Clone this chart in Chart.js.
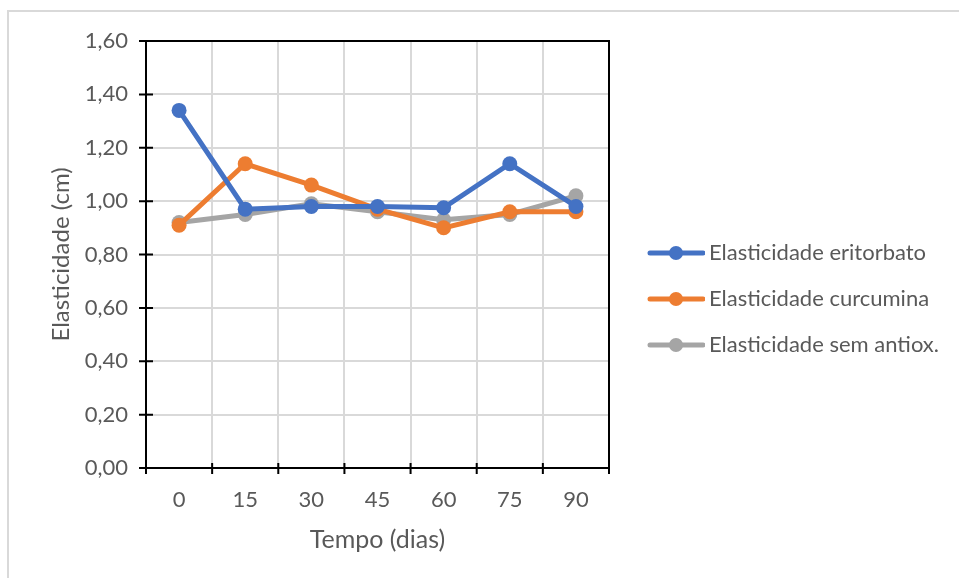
<!DOCTYPE html>
<html>
<head>
<meta charset="utf-8">
<script src="https://cdn.jsdelivr.net/npm/chart.js@4/dist/chart.umd.min.js"></script>
<style>
    html, body { margin: 0; padding: 0; background: #fff; }
    #wrap { width: 959px; height: 578px; }
</style>
</head>
<body>
<div id="wrap"><canvas id="elastChart" width="959" height="578"></canvas></div>
<script>
const dias = ['0', '15', '30', '45', '60', '75', '90'];
const eritorbato = [1.34, 0.97, 0.98, 0.98, 0.975, 1.14, 0.98];
const curcumina = [0.91, 1.14, 1.06, 0.97, 0.90, 0.96, 0.96];
const semAntiox = [0.92, 0.95, 0.99, 0.96, 0.93, 0.95, 1.02];
const seriesNames = ['Elasticidade eritorbato', 'Elasticidade curcumina', 'Elasticidade sem antiox.'];
const seriesColors = ['#4472C4', '#ED7D31', '#A5A5A5'];
const yTicks = [0, 0.2, 0.4, 0.6, 0.8, 1.0, 1.2, 1.4, 1.6];

const textColor = '#595959';
const fontFamily = "Lato, 'Open Sans', sans-serif";

// little line + marker used as the legend symbol
function legendIcon(color) {
    const c = document.createElement('canvas');
    c.width = 79;
    c.height = 16;
    const g = c.getContext('2d');
    g.strokeStyle = color;
    g.lineWidth = 5;
    g.lineCap = 'round';
    g.beginPath();
    g.moveTo(24, 8);
    g.lineTo(77, 8);
    g.stroke();
    g.fillStyle = color;
    g.beginPath();
    g.arc(50, 8, 7, 0, Math.PI * 2);
    g.fill();
    return c;
}

// frame around the plot, crossing tick marks and the outer sheet edge
const plotFrame = {
    id: 'plotFrame',
    afterDatasetsDraw(chart) {
        const {ctx, chartArea: a, scales: {x, y}} = chart;
        ctx.save();
        ctx.strokeStyle = '#000';
        ctx.lineWidth = 2;
        ctx.strokeRect(a.left, a.top, a.right - a.left, a.bottom - a.top);
        ctx.beginPath();
        yTicks.forEach(v => {
            const py = y.getPixelForValue(v);
            ctx.moveTo(a.left - 7, py);
            ctx.lineTo(a.left + 7, py);
        });
        for (let i = 0; i <= dias.length; i++) {
            const px = x.getPixelForValue(i - 0.5);
            ctx.moveTo(px, a.bottom - 5);
            ctx.lineTo(px, a.bottom + 6);
        }
        ctx.stroke();
        ctx.restore();
    },
    afterDraw(chart) {
        const ctx = chart.ctx;
        ctx.save();
        ctx.strokeStyle = '#d9d9d9';
        ctx.lineWidth = 2;
        ctx.beginPath();
        ctx.moveTo(8, chart.height);
        ctx.lineTo(8, 11);
        ctx.lineTo(chart.width, 11);
        ctx.stroke();
        ctx.restore();
    }
};

const legendWidth = {
    id: 'legendWidth',
    beforeInit(chart) {
        const fitValue = chart.legend.fit;
        chart.legend.fit = function () {
            fitValue.bind(chart.legend)();
            this.width = 350;
        };
    }
};

function makeSet(label, data, color) {
    return {
        label: label,
        data: data,
        borderColor: color,
        backgroundColor: color,
        borderWidth: 5,
        pointRadius: 7.5,
        pointBorderWidth: 0,
        pointBackgroundColor: color,
        tension: 0,
        fill: false
    };
}

const ctx = document.getElementById('elastChart').getContext('2d');
const myChart = new Chart(ctx, {
    type: 'line',
    plugins: [legendWidth, plotFrame],
    data: {
        labels: dias,
        datasets: [
            makeSet(seriesNames[0], eritorbato, seriesColors[0]),
            makeSet(seriesNames[1], curcumina, seriesColors[1]),
            makeSet(seriesNames[2], semAntiox, seriesColors[2])
        ]
    },
    options: {
        responsive: false,
        animation: false,
        layout: {
            padding: { left: 0, top: 41, right: 0, bottom: 21 }
        },
        plugins: {
            tooltip: { enabled: false },
            legend: {
                position: 'right',
                align: 'center',
                labels: {
                    usePointStyle: true,
                    pointStyleWidth: 65,
                    padding: 24,
                    color: textColor,
                    font: { family: fontFamily, size: 22 },
                    generateLabels: function (chart) {
                        return chart.data.datasets.map((ds, i) => ({
                            text: ds.label,
                            pointStyle: legendIcon(ds.borderColor),
                            fillStyle: ds.borderColor,
                            strokeStyle: ds.borderColor,
                            lineWidth: 0,
                            fontColor: textColor,
                            hidden: false,
                            datasetIndex: i
                        }));
                    }
                }
            }
        },
        scales: {
            x: {
                offset: true,
                afterFit: (scale) => { scale.height = 89; },
                grid: {
                    offset: true,
                    color: '#d9d9d9',
                    lineWidth: 2,
                    drawTicks: false
                },
                border: { display: false },
                ticks: {
                    padding: 19,
                    color: textColor,
                    font: { family: fontFamily, size: 22 }
                },
                title: {
                    display: true,
                    text: 'Tempo (dias)',
                    color: textColor,
                    font: { family: fontFamily, size: 25 },
                    padding: { top: 0, bottom: 2 }
                }
            },
            y: {
                min: 0,
                max: 1.6,
                afterFit: (scale) => { scale.width = 146; },
                afterBuildTicks: (scale) => {
                    scale.ticks = yTicks.map(v => ({ value: v }));
                },
                grid: {
                    color: '#d9d9d9',
                    lineWidth: 2,
                    drawTicks: false
                },
                border: { display: false },
                ticks: {
                    padding: 18,
                    color: textColor,
                    font: { family: fontFamily, size: 22 },
                    callback: (v) => v.toFixed(2).replace('.', ',')
                },
                title: {
                    display: true,
                    text: 'Elasticidade (cm)',
                    color: textColor,
                    font: { family: fontFamily, size: 24 },
                    padding: { top: 47, bottom: 0 }
                }
            }
        }
    }
});
</script>
</body>
</html>
